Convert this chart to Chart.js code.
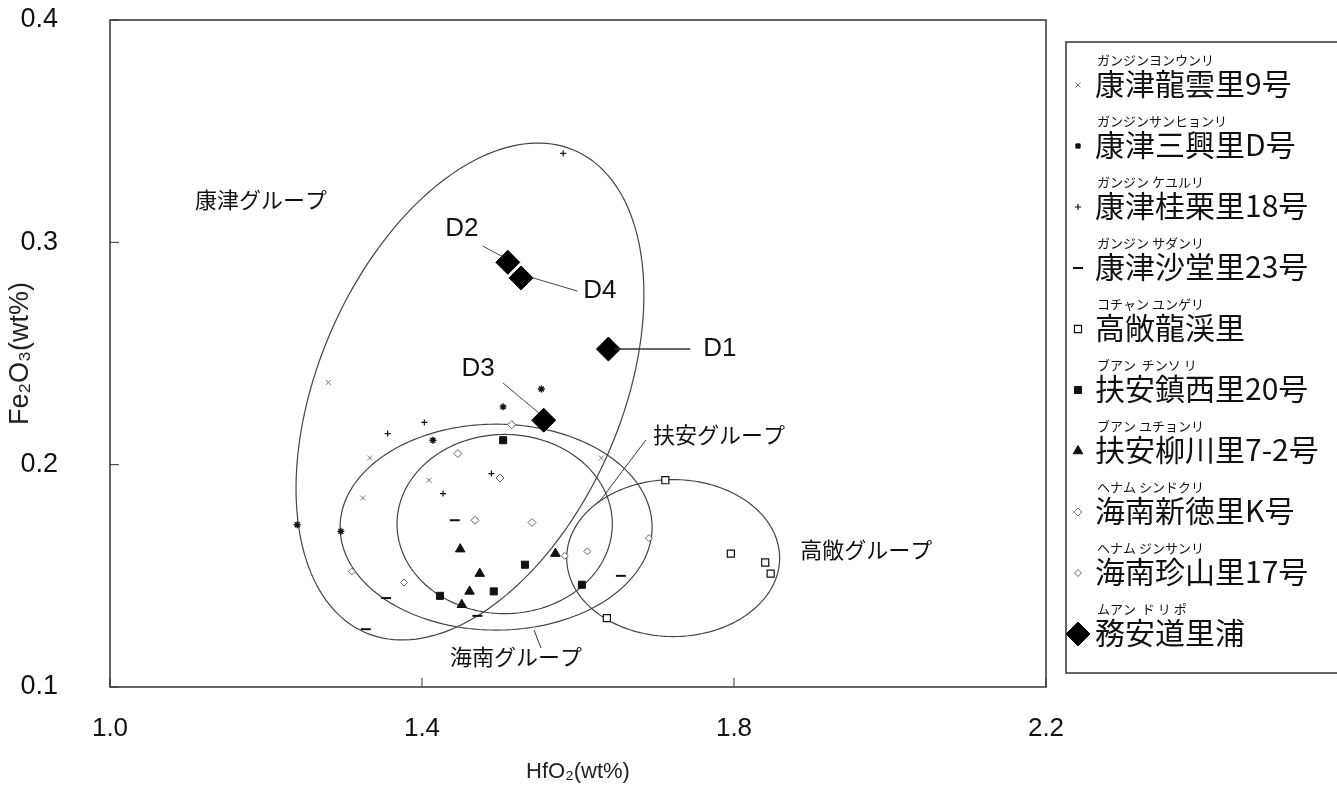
<!DOCTYPE html>
<html>
<head>
<meta charset="utf-8">
<title>HfO2 - Fe2O3</title>
<script src="https://cdn.jsdelivr.net/npm/chart.js@4.4.1/dist/chart.umd.min.js"></script>
<style>
  html, body { margin: 0; padding: 0; background: #fff; }
  canvas { display: block; }
</style>
</head>
<body>
<canvas id="chart" width="1337" height="789"></canvas>
<script>
// Axis ticks
var xTicks = [1.0, 1.4, 1.8, 2.2];
var yTicks = [0.1, 0.2, 0.3, 0.4];

// Sites (legend order) and their readings
var siteNames = ['康津龍雲里9号', '康津三興里D号', '康津桂栗里18号', '康津沙堂里23号', '高敞龍渓里',
  '扶安鎮西里20号', '扶安柳川里7-2号', '海南新徳里K号', '海南珍山里17号', '務安道里浦'];
var siteRuby = ['ガンジンヨンウンリ', 'ガンジンサンヒョンリ', 'ガンジン ケユルリ', 'ガンジン サダンリ', 'コチャン ユンゲリ',
  'ブアン  チンソ リ', 'ブアン ユチョンリ', 'ヘナム シンドクリ', 'ヘナム ジンサンリ', 'ムアン  ド リ ポ'];

var yongunX = [1.280, 1.333, 1.409, 1.324, 1.630];
var yongunY = [0.237, 0.203, 0.193, 0.185, 0.203];
var samhungX = [1.553, 1.504, 1.414, 1.240, 1.296];
var samhungY = [0.234, 0.226, 0.211, 0.173, 0.170];
var gyeyulX = [1.356, 1.403, 1.489, 1.427, 1.581];
var gyeyulY = [0.214, 0.219, 0.196, 0.187, 0.340];
var sadangX = [1.442, 1.655, 1.354, 1.471, 1.328];
var sadangY = [0.175, 0.150, 0.140, 0.132, 0.126];
var yonggyeX = [1.712, 1.637, 1.796, 1.840, 1.847];
var yonggyeY = [0.193, 0.131, 0.160, 0.156, 0.151];
var jinseoX = [1.504, 1.532, 1.605, 1.492, 1.423];
var jinseoY = [0.211, 0.155, 0.146, 0.143, 0.141];
var yucheonX = [1.449, 1.571, 1.474, 1.461, 1.451];
var yucheonY = [0.162, 0.160, 0.151, 0.143, 0.137];
var sindeokX = [1.515, 1.446, 1.500, 1.468, 1.541];
var sindeokY = [0.218, 0.205, 0.194, 0.175, 0.174];
var jinsanX = [1.583, 1.612, 1.691, 1.310, 1.377];
var jinsanY = [0.159, 0.161, 0.167, 0.152, 0.147];
// D1..D4
var doriX = [1.639, 1.510, 1.556, 1.527];
var doriY = [0.252, 0.291, 0.220, 0.284];
var doriLabels = ['D1', 'D2', 'D3', 'D4'];
var doriLabelX = [1.782, 1.451, 1.472, 1.628];
var doriLabelY = [0.252, 0.306, 0.243, 0.278];

// Group outlines (data units): centre, half widths, tilt
var groupNames = ['康津グループ', '海南グループ', '扶安グループ', '高敞グループ'];
var groupCx = [1.4615, 1.495, 1.506, 1.722];
var groupCy = [0.2329, 0.1719, 0.1733, 0.158];
var groupRx = [0.223, 0.200, 0.138, 0.1365];
var groupRy = [0.1029, 0.0463, 0.0403, 0.0353];
var groupTilt = [0.0436, 0, 0, 0];
var groupLabelX = [1.109, 1.436, 1.696, 1.885];
var groupLabelY = [0.319, 0.1135, 0.2133, 0.1616];

var CJK = '"Noto Sans CJK JP", sans-serif';
var LAT = '"Liberation Sans", Arial, sans-serif';

function pts(xs, ys) {
    var out = [];
    for (var i = 0; i < xs.length; i++) out.push({x: xs[i], y: ys[i]});
    return out;
}

function makeSet(i, xs, ys, style) {
    var ds = {
        label: siteNames[i],
        data: pts(xs, ys),
        showLine: false,
        pointStyle: style.shape,
        pointRadius: style.r,
        pointBorderWidth: style.bw,
        pointBorderColor: style.line,
        pointBackgroundColor: style.fill
    };
    return ds;
}

var styles = [
    {shape: 'crossRot', r: 3.5, bw: 1, line: '#777', fill: '#777'},
    {shape: 'star', r: 3.5, bw: 1.4, line: '#111', fill: '#111'},
    {shape: 'cross', r: 3, bw: 1.2, line: '#111', fill: '#111'},
    {shape: 'line', r: 5, bw: 2, line: '#111', fill: '#111'},
    {shape: 'rect', r: 5, bw: 1.2, line: '#111', fill: '#fff'},
    {shape: 'rect', r: 5, bw: 1, line: '#111', fill: '#111'},
    {shape: 'triangle', r: 5.5, bw: 1, line: '#111', fill: '#111'},
    {shape: 'rectRot', r: 4, bw: 1, line: '#666', fill: '#fff'},
    {shape: 'rectRot', r: 3.5, bw: 1, line: '#666', fill: '#fff'},
    {shape: 'rectRot', r: 12, bw: 1, line: '#000', fill: '#000'}
];
// the legend shows a small square for 三興里D
var legendStyles = styles.slice();
legendStyles[1] = {shape: 'rect', r: 3, bw: 1, line: '#111', fill: '#111'};

var datasets = [
    makeSet(9, doriX, doriY, styles[9]),
    makeSet(0, yongunX, yongunY, styles[0]),
    makeSet(1, samhungX, samhungY, styles[1]),
    makeSet(2, gyeyulX, gyeyulY, styles[2]),
    makeSet(3, sadangX, sadangY, styles[3]),
    makeSet(4, yonggyeX, yonggyeY, styles[4]),
    makeSet(5, jinseoX, jinseoY, styles[5]),
    makeSet(6, yucheonX, yucheonY, styles[6]),
    makeSet(7, sindeokX, sindeokY, styles[7]),
    makeSet(8, jinsanX, jinsanY, styles[8])
];

function line(ctx, x1, y1, x2, y2) {
    ctx.beginPath();
    ctx.moveTo(x1, y1);
    ctx.lineTo(x2, y2);
    ctx.stroke();
}

// ellipses behind the points
var groupPlugin = {
    id: 'groups',
    beforeDatasetsDraw: function(chart) {
        var ctx = chart.ctx, sx = chart.scales.x, sy = chart.scales.y;
        ctx.save();
        ctx.strokeStyle = '#444';
        ctx.lineWidth = 1.2;
        for (var i = 0; i < groupNames.length; i++) {
            ctx.beginPath();
            for (var k = 0; k <= 180; k++) {
                var t = k / 180 * Math.PI * 2;
                var vx = groupCx[i] + groupRx[i] * Math.cos(t);
                var vy = groupCy[i] + groupTilt[i] * Math.cos(t) + groupRy[i] * Math.sin(t);
                var px = sx.getPixelForValue(vx), py = sy.getPixelForValue(vy);
                if (k === 0) ctx.moveTo(px, py); else ctx.lineTo(px, py);
            }
            ctx.closePath();
            ctx.stroke();
        }
        ctx.restore();
    }
};

var decoPlugin = {
    id: 'deco',
    afterDraw: function(chart) {
        var ctx = chart.ctx, a = chart.chartArea, sx = chart.scales.x, sy = chart.scales.y;
        ctx.save();

        // frame + inward ticks
        ctx.strokeStyle = '#333';
        ctx.lineWidth = 1.5;
        ctx.strokeRect(a.left, a.top, a.right - a.left, a.bottom - a.top);
        ctx.lineWidth = 1;
        xTicks.forEach(function(v) {
            var px = sx.getPixelForValue(v);
            line(ctx, px, a.bottom, px, a.bottom - 9);
        });
        yTicks.forEach(function(v) {
            var py = sy.getPixelForValue(v);
            line(ctx, a.left, py, a.left + 9, py);
        });

        // group names
        ctx.fillStyle = '#111';
        ctx.textAlign = 'left';
        ctx.textBaseline = 'middle';
        ctx.font = '22px ' + CJK;
        for (var i = 0; i < groupNames.length; i++) {
            ctx.fillText(groupNames[i], sx.getPixelForValue(groupLabelX[i]), sy.getPixelForValue(groupLabelY[i]));
        }
        ctx.strokeStyle = '#333';
        ctx.lineWidth = 1;
        line(ctx, sx.getPixelForValue(1.687), sy.getPixelForValue(0.2111), sx.getPixelForValue(1.626), sy.getPixelForValue(0.1827));
        line(ctx, sx.getPixelForValue(1.5526), sy.getPixelForValue(0.1175), sx.getPixelForValue(1.5436), sy.getPixelForValue(0.1256));

        // D labels with leaders
        var leadFrom = [[1.647, 0.252], [1.478, 0.2983], [1.504, 0.2367], [1.5385, 0.2844]];
        var leadTo = [[1.744, 0.252], [1.504, 0.2934], [1.550, 0.2232], [1.599, 0.2781]];
        ctx.font = '26px ' + LAT;
        ctx.textAlign = 'center';
        for (var d = 0; d < doriLabels.length; d++) {
            ctx.lineWidth = d === 0 ? 1.4 : 0.9;
            line(ctx, sx.getPixelForValue(leadFrom[d][0]), sy.getPixelForValue(leadFrom[d][1]),
                sx.getPixelForValue(leadTo[d][0]), sy.getPixelForValue(leadTo[d][1]));
            ctx.fillText(doriLabels[d], sx.getPixelForValue(doriLabelX[d]), sy.getPixelForValue(doriLabelY[d]));
        }

        // legend box with ruby
        var top = 42, bottom = 673, left = 1066, step = 61, first = 83;
        ctx.strokeStyle = '#333';
        ctx.lineWidth = 1.5;
        ctx.strokeRect(left, top, 300, bottom - top);
        ctx.textAlign = 'left';
        for (var j = 0; j < siteNames.length; j++) {
            var ry = first + j * step;
            var st = legendStyles[j];
            ctx.fillStyle = st.fill;
            ctx.strokeStyle = st.line;
            ctx.lineWidth = st.bw;
            Chart.helpers.drawPoint(ctx, {pointStyle: st.shape, radius: st.r, rotation: 0, borderWidth: st.bw}, left + 12, ry + 2);
            ctx.fillStyle = '#111';
            ctx.font = '13px ' + CJK;
            ctx.fillText(siteRuby[j], left + 31, ry - 23);
            ctx.font = '30px ' + CJK;
            ctx.fillText(siteNames[j], left + 29, ry + 1);
        }
        ctx.restore();
    }
};

var ctx = document.getElementById('chart');
var chart = new Chart(ctx, {
    type: 'scatter',
    data: { datasets: datasets },
    options: {
        responsive: false,
        animation: false,
        devicePixelRatio: 1,
        events: [],
        layout: { padding: { top: 20, right: 291, left: 0, bottom: 0 } },
        plugins: {
            legend: { display: false },
            tooltip: { enabled: false }
        },
        scales: {
            x: {
                type: 'linear',
                min: 1.0,
                max: 2.2,
                afterBuildTicks: function(axis) {
                    axis.ticks = xTicks.map(function(v) { return {value: v}; });
                },
                afterFit: function(axis) {
                    axis.height = 102;
                    axis.paddingLeft = 0;
                    axis.paddingRight = 0;
                },
                grid: { display: false, drawTicks: false },
                border: { display: false },
                ticks: {
                    padding: 26,
                    color: '#111',
                    font: { family: LAT, size: 26 },
                    callback: function(v) { return v.toFixed(1); }
                },
                title: {
                    display: true,
                    text: 'HfO₂(wt%)',
                    color: '#222',
                    font: { family: LAT, size: 22 },
                    padding: { top: 0, bottom: 4 }
                }
            },
            y: {
                type: 'linear',
                min: 0.1,
                max: 0.4,
                afterBuildTicks: function(axis) {
                    axis.ticks = yTicks.map(function(v) { return {value: v}; });
                },
                afterFit: function(axis) {
                    axis.width = 110;
                    axis.paddingTop = 0;
                    axis.paddingBottom = 0;
                },
                grid: { display: false, drawTicks: false },
                border: { display: false },
                ticks: {
                    padding: 52,
                    color: '#111',
                    font: { family: LAT, size: 27 },
                    callback: function(v) { return v.toFixed(1); }
                },
                title: {
                    display: true,
                    text: 'Fe₂O₃(wt%)',
                    color: '#222',
                    font: { family: LAT, size: 27 },
                    padding: { top: 4, bottom: 0 }
                }
            }
        }
    },
    plugins: [groupPlugin, decoPlugin]
});
</script>
</body>
</html>
